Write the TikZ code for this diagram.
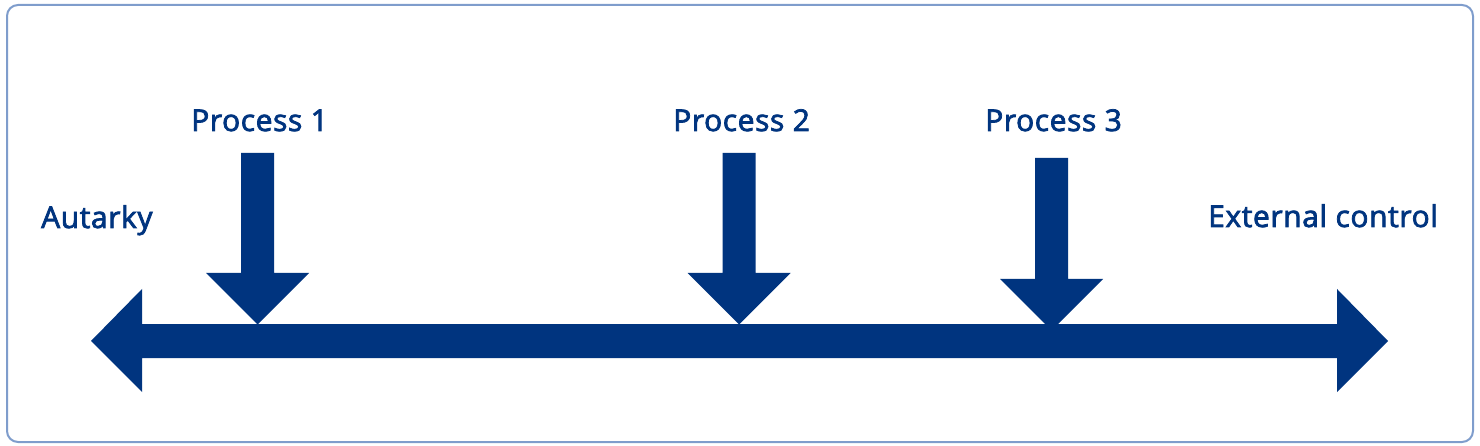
\documentclass[tikz,border=0pt]{standalone}
\usepackage{fontspec}
\setmainfont{Open Sans}
\newfontfamily\labfont{Open Sans}[FakeBold=2.5,LetterSpace=2]
\definecolor{navy}{HTML}{00347F}
\definecolor{frame}{HTML}{7F9DCC}
\begin{document}
\begin{tikzpicture}[x=1pt,y=-1pt,
  lab/.style={anchor=base west,inner sep=0pt,text=navy,font=\labfont\fontsize{30}{35}\selectfont},
  shape fill/.style={fill=navy,draw=none}]
\useasboundingbox (0,0) rectangle (1480,446);
\draw[frame,line width=2pt,rounded corners=11pt,fill=white] (7,5) rectangle (1473,442);
% main double arrow
\fill[navy] (91,341) -- (142,289) -- (142,324) -- (1337,324) -- (1337,289) -- (1388,341)
  -- (1337,392) -- (1337,358) -- (142,358) -- (142,392) -- cycle;
\coordinate (axisL) at (91,341);
\coordinate (axisR) at (1388,341);
% down arrows
\foreach \c/\t/\h/\n in {257.5/153/273/a1, 739/153/273/a2, 1051.5/158/279/a3}{
  \fill[navy] (\c-16.5,\t) -- (\c+16.5,\t) -- (\c+16.5,\h) -- (\c+51.5,\h) -- (\c,\h+51.5)
    -- (\c-51.5,\h) -- (\c-16.5,\h) -- cycle;
  \coordinate (\n) at (\c,\t);
}
\node[lab] (p1) at (191,131) {Process 1};
\node[lab] (p2) at (673,131) {Process 2};
\node[lab] (p3) at (985,131) {Process 3};
\node[lab] (aut) at (41,228) {Autarky};
\node[lab] (ext) at (1208,227) {External control};
\end{tikzpicture}
\end{document}
